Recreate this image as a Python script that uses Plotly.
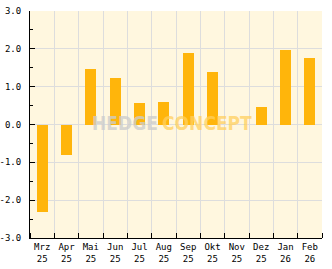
import plotly.graph_objects as go

months = ["Mrz", "Apr", "Mai", "Jun", "Jul", "Aug", "Sep", "Okt", "Nov", "Dez", "Jan", "Feb"]
years = ["25", "25", "25", "25", "25", "25", "25", "25", "25", "25", "26", "26"]
values = [-2.3, -0.8, 1.48, 1.22, 0.58, 0.6, 1.9, 1.38, 0.0, 0.45, 1.98, 1.77]
y_ticks = [-3, -2, -1, 0, 1, 2, 3]
y_tick_labels = ["-3.0", "-2.0", "-1.0", "0.0", "1.0", "2.0", "3.0"]

x_pos = list(range(len(months)))
x_labels = [f"{m}<br>{y}" for m, y in zip(months, years)]
boundaries = [i - 0.5 for i in range(len(months) + 1)]

font_mono = "DejaVu Sans Mono"
fsize = 9
wm_font = "Liberation Sans Narrow, DejaVu Sans Condensed, sans-serif"

fig = go.Figure()
fig.add_trace(go.Bar(
    x=x_pos, y=values, width=0.45,
    marker=dict(color="#FFB50B", line=dict(width=0)),
    hoverinfo="skip",
))

fig.update_layout(
    width=332, height=269,
    margin=dict(l=30, r=10, t=11, b=31, pad=0, autoexpand=False),
    paper_bgcolor="white",
    plot_bgcolor="#FFF7DF",
    showlegend=False,
    bargap=0,
    font=dict(family=font_mono, size=fsize, color="black"),
    xaxis=dict(
        range=[-0.5, len(months) - 0.5],
        tickmode="array", tickvals=x_pos, ticktext=x_labels,
        ticks="", showgrid=False, zeroline=False, automargin=False,
        showline=True, linecolor="black", linewidth=1,
        tickfont=dict(family=font_mono, size=fsize, color="black"),
        minor=dict(tickmode="array", tickvals=boundaries, ticks="inside",
                   ticklen=5, tickcolor="black", showgrid=True,
                   gridcolor="#DDDDDD", gridwidth=1),
        fixedrange=True,
    ),
    yaxis=dict(
        range=[-3, 3],
        tickmode="array", tickvals=y_ticks, ticktext=y_tick_labels,
        ticks="inside", ticklen=5, tickcolor="black",
        showgrid=True, gridcolor="#DDDDDD", gridwidth=1,
        zeroline=False, automargin=False, ticklabelstandoff=6,
        showline=True, linecolor="black", linewidth=1,
        tickfont=dict(family=font_mono, size=fsize, color="black"),
        minor=dict(dtick=0.5, tick0=0, ticks="inside", ticklen=3,
                   tickcolor="black", showgrid=False),
        fixedrange=True,
    ),
    annotations=[
        dict(text="<b>HEDGE</b>", xref="paper", yref="paper",
             x=0.445, y=0.505, xanchor="right", yanchor="middle",
             showarrow=False,
             font=dict(family=wm_font, size=19,
                       color="rgba(205,205,205,0.8)")),
        dict(text="<b>CONCEPT</b>", xref="paper", yref="paper",
             x=0.445, y=0.505, xanchor="left", yanchor="middle",
             showarrow=False,
             font=dict(family=wm_font, size=19,
                       color="rgba(255,208,95,0.75)")),
    ],
)

fig.write_html("out.html")
